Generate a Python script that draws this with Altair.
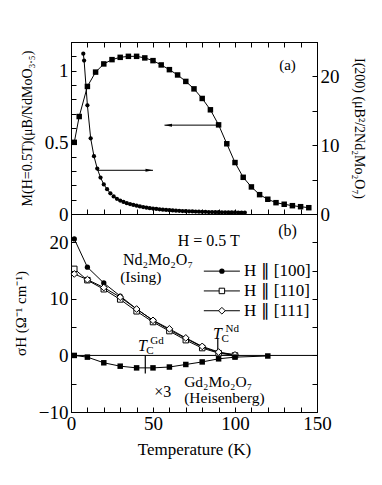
import altair as alt
import pandas as pd

FONT = "Liberation Serif"

# ---------------- data ----------------
# (a) magnetization M(H=0.5T), left axis
m_T = [2, 5, 10, 15, 20, 25, 30, 35, 40, 45, 50, 55, 60, 65, 70, 75, 80, 85, 90, 95,
       100, 105, 110, 115, 120, 125, 130, 135, 140, 145]
m_val = [0.50, 0.68, 0.89, 0.99, 1.047, 1.077, 1.093, 1.10, 1.10, 1.089, 1.07, 1.04,
         1.007, 0.97, 0.925, 0.873, 0.806, 0.727, 0.622, 0.49, 0.359, 0.256, 0.189,
         0.135, 0.103, 0.079, 0.068, 0.058, 0.051, 0.044]

# (a) neutron intensity I(200), right axis
i_T = [7.5, 8, 10, 12, 14, 16, 18, 20, 22, 24, 26, 28, 30, 32, 34, 36, 38, 40, 42, 44,
       46, 48, 50, 52, 54, 56, 58, 60, 62, 64, 66, 68, 70, 72, 74, 76, 78, 80, 82, 84,
       86, 88, 90, 92, 94, 96, 98, 100, 102, 104, 106]
i_val = [23.3, 22.3, 15.8, 11.0, 8.4, 6.6, 5.3, 4.3, 3.6, 3.0, 2.55, 2.2, 1.95, 1.75,
         1.58, 1.44, 1.32, 1.2, 1.1, 1.0, 0.92, 0.85, 0.79, 0.73, 0.68, 0.63, 0.59, 0.55,
         0.52, 0.49, 0.46, 0.43, 0.41, 0.39, 0.37, 0.35, 0.33, 0.32, 0.31, 0.29, 0.28,
         0.27, 0.26, 0.25, 0.24, 0.23, 0.22, 0.22, 0.21, 0.20, 0.20]

# (b) Hall conductivity of Nd2Mo2O7
s_T = [2, 10, 20, 30, 40, 50, 60, 70, 80, 90, 100]
s_100 = [20.6, 15.6, 12.8, 10.5, 8.2, 6.2, 4.5, 3.0, 1.5, 0.5, 0.1]
s_110 = [15.3, 13.3, 11.7, 9.9, 7.8, 5.9, 4.3, 2.7, 1.3, 0.4, 0.0]
s_111 = [14.4, 13.4, 12.0, 10.3, 8.2, 6.2, 4.7, 3.1, 1.6, 0.6, 0.1]
series_names = ["H \u2225 [100]", "H \u2225 [110]", "H \u2225 [111]"]

# (b) Gd2Mo2O7 (x3)
gd_T = [2, 10, 20, 30, 40, 50, 60, 70, 80, 90, 100, 120]
gd_val = [0.0, -0.3, -1.3, -1.9, -2.2, -2.2, -2.05, -1.6, -1.15, -0.6, -0.3, -0.1]

# arrows in (a) (in M units)
arrow_x1 = [57, 16]
arrow_x2 = [90, 50]
arrow_y = [0.62, 0.305]
arrow_tip = [57, 50]

# Tc markers in (b)
tc_T = [45.3, 89.5]
tc_top = [0.0, 3.0]
tc_bot = [-3.2, -1.0]
tc_label_T = [43.5, 89.3]
tc_label_S = [0.7, 2.9]
tc_sup = ["Gd", "Nd"]

# legend rows of (b), in data units
leg_S = [14.9, 11.4, 7.9]
leg_T1 = 81
leg_T2 = 103
leg_Tm = 92
leg_Tt = 105.5

# tick values
x_ticks = list(range(0, 151, 10))
m_ticks = [i / 10 for i in range(13)]
i_ticks = [0, 5, 10, 15, 20, 25]
s_ticks = [-10, -5, 0, 5, 10, 15, 20, 25]

# ---------------- layout ----------------
W = 246
H_TOP = 172
H_BOT = 198
TICK = {"expr": "-5"}

xs = alt.Scale(domain=[0, 150], nice=False, zero=False)
ms = alt.Scale(domain=[0, 1.2], nice=False)
is_ = alt.Scale(domain=[0, 25], nice=False)
ss = alt.Scale(domain=[-10, 25], nice=False)


def xax(field, orient="bottom"):
    return alt.X(field, scale=xs, axis=alt.Axis(orient=orient, values=x_ticks, labels=False,
                                                title=None, tickSize=TICK, grid=False))


x_top_bottom = xax("T:Q", "bottom")
x_top_top = xax("T:Q", "top")
y_m = alt.Y("M:Q", scale=ms, axis=alt.Axis(
    orient="left", values=m_ticks, tickSize=TICK, labelPadding=8, grid=False,
    labelExpr="datum.value == 0 ? '0' : datum.value == 0.5 ? '0.5' : datum.value == 1 ? '1' : ''",
    title="M(H=0.5T)(\u03bcB/NdMoO\u2083.\u2085)", titlePadding=10))
y_i = alt.Y("I:Q", scale=is_, axis=alt.Axis(
    orient="right", values=i_ticks, tickSize=TICK, labelPadding=8, grid=False,
    labelExpr="datum.value % 10 == 0 && datum.value < 25 ? datum.label : ''",
    title="I(200) (\u03bcB\u00b2/2Nd\u2082Mo\u2082O\u2087)", titlePadding=12))

m_df = pd.DataFrame({"T": m_T, "M": m_val})
i_df = pd.DataFrame({"T": i_T, "I": i_val})
arr_df = pd.DataFrame({"T": arrow_x1, "T2": arrow_x2, "M": arrow_y, "tip": arrow_tip})

m_line = alt.Chart(m_df).mark_line(color="black", strokeWidth=1).encode(x=x_top_bottom, y=y_m)
m_pts = alt.Chart(m_df).mark_square(color="black", size=30, opacity=1).encode(x=x_top_bottom, y=y_m)
arr_line = alt.Chart(arr_df).mark_rule(color="black", strokeWidth=1).encode(
    x=x_top_bottom, x2="T2:Q", y=y_m)
arr_left = alt.Chart(arr_df.iloc[[0]]).mark_point(
    shape="M0,0L3,-0.6L3,0.6Z", size=25, filled=True, color="black", opacity=1).encode(
    x=xax("tip:Q"), y=y_m)
arr_right = alt.Chart(arr_df.iloc[[1]]).mark_point(
    shape="M0,0L-3,-0.6L-3,0.6Z", size=25, filled=True, color="black", opacity=1).encode(
    x=xax("tip:Q"), y=y_m)
lab_a = alt.Chart(pd.DataFrame({"T": [132], "M": [1.04], "t": ["(a)"]})).mark_text(
    font=FONT, fontSize=15, color="black").encode(x=x_top_bottom, y=y_m, text="t:N")

m_group = alt.layer(m_line, m_pts, arr_line, arr_left, arr_right, lab_a)

i_line = alt.Chart(i_df).mark_line(color="black", strokeWidth=1).encode(x=x_top_top, y=y_i)
i_pts = alt.Chart(i_df).mark_circle(color="black", size=18, opacity=1).encode(x=x_top_top, y=y_i)
i_group = alt.layer(i_line, i_pts)

top = alt.layer(m_group, i_group).resolve_scale(y="independent").resolve_axis(
    x="independent", y="independent").properties(width=W, height=H_TOP)

# ---------------- bottom panel ----------------
x_b = alt.X("T:Q", scale=xs, axis=alt.Axis(
    orient="bottom", values=x_ticks, tickSize=TICK, labelPadding=7, grid=False,
    labelExpr="datum.value % 50 == 0 ? datum.label : ''", title="Temperature (K)",
    titlePadding=8, titleFontSize=17))
y_s = alt.Y("S:Q", scale=ss, axis=alt.Axis(
    orient="left", values=s_ticks, tickSize=TICK, labelPadding=8, grid=False,
    labelExpr="datum.value % 10 == 0 && datum.value < 25 ? datum.label : ''",
    title="\u03c3H (\u03a9\u207b\u00b9 cm\u207b\u00b9)", titlePadding=10, titleFontSize=15))

s_df = pd.DataFrame({
    "T": s_T * 3,
    "S": s_100 + s_110 + s_111,
    "series": [series_names[0]] * len(s_T) + [series_names[1]] * len(s_T) + [series_names[2]] * len(s_T),
})
df100 = pd.DataFrame({"T": s_T, "S": s_100})
df110 = pd.DataFrame({"T": s_T, "S": s_110})
df111 = pd.DataFrame({"T": s_T, "S": s_111})
gd_df = pd.DataFrame({"T": gd_T, "S": gd_val})


def filled_circle(df):
    return alt.Chart(df).mark_point(shape="circle", size=28, filled=True, color="black",
                                    opacity=1).encode(x=x_b, y=y_s)


def open_square(df):
    return alt.Chart(df).mark_point(shape="square", size=30, fill="white", stroke="black",
                                    strokeWidth=1, opacity=1, fillOpacity=1).encode(x=x_b, y=y_s)


def open_diamond(df):
    return alt.Chart(df).mark_point(shape="diamond", size=45, fill="white", stroke="black",
                                    strokeWidth=1, opacity=1, fillOpacity=1).encode(x=x_b, y=y_s)


s_lines = alt.Chart(s_df).mark_line(color="black", strokeWidth=1).encode(
    x=x_b, y=y_s, detail="series:N")
gd_line = alt.Chart(gd_df).mark_line(color="black", strokeWidth=1).encode(x=x_b, y=y_s)
gd_pts = alt.Chart(gd_df).mark_square(color="black", size=30, opacity=1).encode(x=x_b, y=y_s)

zero = alt.Chart(pd.DataFrame({"S": [0]})).mark_rule(color="black", strokeWidth=1).encode(y=y_s)

tc_df = pd.DataFrame({"T": tc_T, "S": tc_top, "S2": tc_bot})
tc_rules = alt.Chart(tc_df).mark_rule(color="black", strokeWidth=1.2).encode(x=x_b, y=y_s, y2="S2:Q")

# legend (line + marker) drawn inside panel (b)
leg_line_df = pd.DataFrame({"T": [leg_T1] * 3, "T2": [leg_T2] * 3, "S": leg_S})
leg_lines = alt.Chart(leg_line_df).mark_rule(color="black", strokeWidth=1).encode(
    x=x_b, x2="T2:Q", y=y_s)
leg_m100 = filled_circle(pd.DataFrame({"T": [leg_Tm], "S": [leg_S[0]]}))
leg_m110 = open_square(pd.DataFrame({"T": [leg_Tm], "S": [leg_S[1]]}))
leg_m111 = open_diamond(pd.DataFrame({"T": [leg_Tm], "S": [leg_S[2]]}))
leg_txt = alt.Chart(pd.DataFrame({"T": [leg_Tt] * 3, "S": leg_S, "t": series_names})).mark_text(
    font=FONT, fontSize=17, color="black", align="left", baseline="middle").encode(
    x=x_b, y=y_s, text="t:N")

txt = pd.DataFrame({
    "T": [132, 84, 53, 30, 56, 69, 69],
    "S": [22, 20.3, 16.9, 13.8, -6.5, -4.7, -7.6],
    "t": ["(b)", "H = 0.5 T", "Nd\u2082Mo\u2082O\u2087", "(Ising)", "\u00d73",
          "Gd\u2082Mo\u2082O\u2087", "(Heisenberg)"],
    "align": ["center", "center", "center", "left", "center", "left", "left"],
})
txt_c = alt.Chart(txt[txt["align"] == "center"]).mark_text(
    font=FONT, fontSize=16, color="black", align="center", baseline="middle").encode(x=x_b, y=y_s, text="t:N")
txt_l = alt.Chart(txt[txt["align"] == "left"]).mark_text(
    font=FONT, fontSize=15.5, color="black", align="left", baseline="middle").encode(x=x_b, y=y_s, text="t:N")

tcl = pd.DataFrame({"T": tc_label_T, "S": tc_label_S, "t": tc_sup})
tc_T_txt = alt.Chart(tcl).mark_text(font=FONT, fontSize=16, fontStyle="italic", color="black",
                                    align="center", baseline="alphabetic", text="T").encode(x=x_b, y=y_s)
tc_C_txt = alt.Chart(tcl).mark_text(font=FONT, fontSize=11, color="black", align="left",
                                    baseline="alphabetic", text="C", dx=4, dy=3).encode(x=x_b, y=y_s)
tc_sup_txt = alt.Chart(tcl).mark_text(font=FONT, fontSize=11, color="black", align="left",
                                      baseline="alphabetic", dx=8, dy=-7).encode(x=x_b, y=y_s, text="t:N")

main_b = alt.layer(zero, s_lines, gd_line, tc_rules,
                   filled_circle(df100), open_square(df110), open_diamond(df111), gd_pts,
                   leg_lines, leg_m100, leg_m110, leg_m111, leg_txt,
                   txt_c, txt_l, tc_T_txt, tc_C_txt, tc_sup_txt)

right_axis = alt.Chart(pd.DataFrame({"S": [0]})).mark_rule(opacity=0).encode(
    y=alt.Y("S:Q", scale=ss, axis=alt.Axis(orient="right", values=s_ticks, tickSize=TICK,
                                           labels=False, title=None, grid=False)))

bottom = alt.layer(main_b, right_axis).resolve_axis(y="independent").properties(width=W, height=H_BOT)

chart = alt.vconcat(top, bottom, spacing=0, bounds="flush").properties(
    padding={"left": 4, "top": 24, "right": 2, "bottom": 2}
).configure(font=FONT).configure_view(stroke="black", strokeWidth=1).configure_axis(
    labelFont=FONT, titleFont=FONT, labelFontSize=19, titleFontSize=14, labelColor="black",
    titleColor="black", tickColor="black", domainColor="black", titleFontWeight="normal",
    labelFlush=False, labelOverlap=False
)

chart.save("out.html", embed_options={"renderer": "svg", "actions": False})
